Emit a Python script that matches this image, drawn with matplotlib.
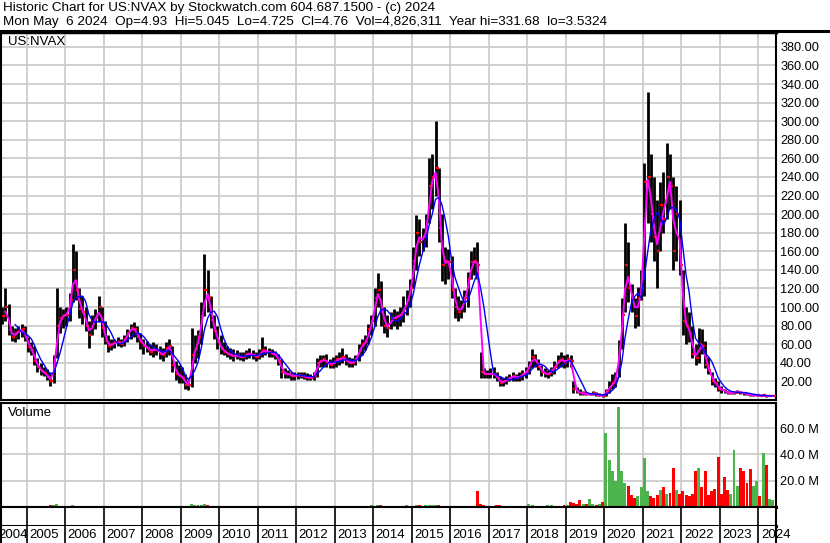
import numpy as np
import pandas as pd
import matplotlib
matplotlib.use('Agg')
import matplotlib.pyplot as plt
import matplotlib.dates as mdates
from matplotlib.lines import Line2D
from matplotlib.transforms import blended_transform_factory, offset_copy

plt.rcParams['font.family'] = ['Liberation Sans', 'DejaVu Sans']

# monthly bars May 2004 .. May 2024, split adjusted prices, volume in millions
high = [
    100, 121, 103, 80, 78, 80, 82, 80,                                   # 2004
    68, 62, 58, 45, 40, 36, 33, 30, 48, 121, 100, 98,                    # 2005
    100, 115, 168, 160, 120, 112, 100, 85, 92, 98, 112, 100,             # 2006
    85, 70, 66, 66, 68, 66, 70, 76, 82, 84, 80, 72,                      # 2007
    66, 64, 60, 62, 60, 58, 56, 62, 66, 58, 42, 38,                      # 2008
    35, 28, 22, 78, 70, 75, 105, 157, 140, 112, 92, 80,                  # 2009
    70, 62, 58, 56, 55, 54, 52, 52, 54, 56, 54, 52,                      # 2010
    55, 68, 58, 56, 55, 53, 50, 44, 34, 32, 30, 30,                      # 2011
    30, 30, 30, 29, 28, 30, 45, 48, 48, 50, 44, 46,                      # 2012
    48, 52, 56, 50, 46, 45, 48, 60, 66, 70, 82, 92,                      # 2013
    120, 137, 128, 100, 92, 95, 98, 96, 100, 112, 118, 130,              # 2014
    165, 199, 195, 185, 200, 260, 265, 300, 250, 200, 165, 162,          # 2015
    155, 120, 112, 108, 118, 138, 160, 165, 170, 52, 34, 32,             # 2016
    34, 36, 30, 26, 24, 26, 28, 30, 28, 30, 32, 36,                      # 2017
    42, 55, 50, 44, 38, 34, 32, 36, 42, 48, 52, 48,                      # 2018
    50, 48, 20, 14, 12, 10, 9, 8, 10, 9, 8, 6,                           # 2019
    12, 20, 28, 30, 65, 110, 191, 170, 125, 110, 122, 140,               # 2020
    255, 331, 265, 240, 215, 235, 245, 277, 265, 240, 230, 215,          # 2021
    140, 100, 95, 80, 60, 78, 76, 64, 46, 30, 24, 20,                    # 2022
    15, 12, 10, 9, 10, 11, 10, 9, 8, 7, 6, 6,                            # 2023
    5.5, 6, 5.5, 5, 5.05,                                                # 2024
]
low = [
    82, 85, 70, 63, 62, 66, 68, 64,
    52, 48, 38, 30, 27, 26, 22, 15, 18, 45, 72, 78,
    80, 85, 105, 108, 88, 82, 74, 56, 70, 76, 84, 68,
    60, 52, 54, 56, 58, 57, 58, 62, 66, 68, 62, 55,
    50, 52, 48, 46, 48, 44, 42, 46, 48, 30, 22, 18,
    18, 12, 11, 14, 40, 45, 60, 90, 95, 78, 66, 55,
    50, 48, 46, 44, 42, 44, 43, 42, 44, 45, 44, 42,
    44, 46, 48, 46, 46, 44, 38, 24, 24, 24, 22, 22,
    23, 24, 23, 22, 21, 22, 25, 36, 36, 36, 34, 34,
    36, 38, 40, 38, 36, 36, 38, 42, 48, 54, 60, 70,
    80, 100, 80, 72, 68, 76, 80, 76, 80, 84, 92, 100,
    120, 140, 155, 160, 165, 190, 205, 220, 170, 128, 125, 130,
    110, 88, 85, 88, 95, 100, 130, 135, 130, 24, 24, 24,
    24, 24, 20, 15, 15, 17, 20, 20, 20, 20, 22, 24,
    28, 34, 36, 32, 26, 25, 24, 26, 28, 34, 36, 34,
    36, 36, 8, 7, 5, 5, 5, 5, 5, 4, 4, 3.5,
    4, 8, 12, 14, 25, 55, 95, 105, 95, 78, 80, 108,
    112, 190, 170, 150, 120, 160, 180, 195, 205, 140, 150, 135,
    70, 60, 62, 45, 38, 40, 50, 34, 28, 16, 14, 10,
    8, 7, 6, 6, 6, 7, 6, 5, 5, 4, 4, 4,
    4, 4, 3.5, 3.8, 4.7,
]
close = [
    90, 100, 75, 68, 72, 74, 76, 68,
    57, 54, 42, 35, 31, 29, 25, 20, 40, 80, 88, 92,
    92, 108, 140, 118, 98, 95, 80, 70, 85, 88, 100, 78,
    64, 58, 60, 62, 62, 60, 66, 72, 78, 76, 68, 62,
    58, 56, 52, 55, 54, 50, 48, 56, 58, 38, 28, 26,
    24, 16, 16, 48, 55, 68, 90, 118, 110, 86, 74, 62,
    55, 52, 50, 48, 47, 48, 46, 46, 50, 50, 48, 46,
    50, 54, 52, 52, 50, 48, 42, 30, 28, 28, 26, 26,
    27, 26, 25, 24, 24, 26, 40, 42, 44, 40, 38, 40,
    44, 44, 46, 42, 40, 40, 44, 54, 60, 62, 76, 85,
    110, 118, 95, 80, 78, 88, 88, 90, 92, 98, 108, 120,
    150, 180, 170, 175, 185, 230, 240, 250, 185, 145, 150, 148,
    118, 100, 95, 100, 110, 130, 148, 150, 145, 30, 28, 28,
    28, 28, 24, 18, 20, 22, 24, 26, 24, 25, 28, 30,
    38, 46, 42, 36, 30, 28, 28, 32, 36, 42, 44, 40,
    44, 42, 12, 9, 7, 7, 6, 6, 7, 5, 5, 4,
    10, 14, 18, 24, 55, 92, 145, 120, 110, 90, 110, 120,
    235, 240, 200, 175, 160, 210, 195, 240, 230, 160, 200, 145,
    85, 80, 72, 50, 45, 60, 58, 38, 32, 20, 18, 12,
    11, 9, 7, 8, 8, 9, 8, 7, 6, 5, 5, 5,
    4.5, 5, 4, 4.3, 4.76,
]
volume = [
    0.3, 0.4, 0.3, 0.2, 0.2, 0.2, 0.2, 0.2,
    0.2, 0.2, 0.3, 0.3, 0.3, 0.4, 0.5, 1.5, 1.2, 2.5, 1.0, 0.6,
    0.5, 0.8, 1.2, 1.0, 0.5, 0.4, 0.4, 0.3, 0.3, 0.3, 0.3, 0.3,
    0.3, 0.2, 0.2, 0.2, 0.2, 0.2, 0.2, 0.2, 0.2, 0.3, 0.2, 0.2,
    0.2, 0.2, 0.2, 0.2, 0.2, 0.2, 0.2, 0.2, 0.3, 0.3, 0.3, 0.3,
    0.3, 0.3, 0.5, 2.2, 1.5, 1.2, 1.5, 2.5, 1.5, 0.8, 0.5, 0.4,
    0.3, 0.3, 0.3, 0.3, 0.3, 0.3, 0.3, 0.3, 0.3, 0.3, 0.3, 0.3,
    0.3, 0.3, 0.3, 0.3, 0.3, 0.3, 0.3, 0.3, 0.3, 0.3, 0.3, 0.3,
    0.3, 0.3, 0.3, 0.3, 0.3, 0.3, 0.3, 0.3, 0.3, 0.3, 0.3, 0.3,
    0.3, 0.3, 0.3, 0.3, 0.3, 0.3, 0.3, 0.3, 0.3, 0.4, 0.6, 1.2,
    1.0, 1.5, 1.2, 0.8, 0.6, 0.6, 0.5, 0.6, 0.7, 0.8, 1.2, 1.0,
    1.0, 1.5, 1.2, 1.0, 1.2, 1.5, 1.8, 1.5, 1.2, 1.0, 0.8, 0.8,
    0.9, 1.0, 0.8, 0.7, 0.7, 0.8, 0.9, 1.0, 12, 2.5, 1.5, 1.0,
    1.0, 0.8, 1.5, 1.2, 0.8, 0.8, 0.8, 0.7, 0.6, 0.6, 0.6, 0.8,
    2.5, 1.5, 1.0, 0.8, 0.8, 0.7, 1.5, 1.2, 0.8, 0.9, 1.0, 1.2,
    1.5, 4.0, 3.0, 2.0, 5.6, 2.0, 2.0, 6.4, 2.0, 1.5, 2.5, 4.0,
    56, 36, 27, 20, 76, 27, 18, 16, 9, 7, 8, 15,
    37, 12, 8, 7, 9, 13, 15, 10, 11, 30, 13, 10,
    12, 9, 8, 10, 27, 30, 15, 27, 9, 12, 14, 38,
    10, 23, 13, 10, 43, 16, 30, 27, 18, 29, 16, 20,
    8, 41, 32, 6, 5,
]
years = list(range(2005, 2025))

W, H = 830, 543
dates = pd.date_range('2004-05-01', periods=len(close), freq='MS') + pd.Timedelta(days=14)
xs = mdates.date2num(dates.to_pydatetime())
year_x = mdates.date2num([pd.Timestamp(f'{y}-01-01').to_pydatetime() for y in years])
x0 = mdates.date2num(pd.Timestamp('2004-05-04').to_pydatetime())
x1 = mdates.date2num(pd.Timestamp('2024-06-16').to_pydatetime())

cl = pd.Series(close)
ma_fast = cl.rolling(2).mean()
ma_slow = cl.rolling(5).mean()
up = cl.diff().fillna(0) >= 0

grid_c = '#c8c8c8'


def box(top, bottom, left=1, right=776):
    return [left / W, (H - bottom) / H, (right - left) / W, (bottom - top) / H]


fig = plt.figure(figsize=(W / 100, H / 100), dpi=100)
fig.patch.set_facecolor('white')

ax_p = fig.add_axes(box(32, 400))
ax_v = fig.add_axes(box(403, 507))
ax_b = fig.add_axes(box(507, 526))
ax_l = fig.add_axes(box(526, 543))

for ax in (ax_p, ax_v, ax_b, ax_l):
    ax.set_xlim(x0, x1)
    ax.set_xticks(year_x)
    ax.tick_params(axis='x', length=0, labelbottom=False)
    for s in ax.spines.values():
        s.set_color('black')
        s.set_linewidth(1.5)

# price panel
ax_p.vlines(xs, low, high, color='black', lw=2.0, zorder=2)
ax_p.plot(xs, close, ls='none', marker=1, ms=2.2, mew=1.6, color='red', zorder=3)
ax_p.plot(xs, ma_fast, color='#ff00ff', lw=1.4, zorder=4)
ax_p.plot(xs, ma_slow, color='#0000ff', lw=1.0, zorder=5)
ax_p.set_ylim(0, 396)
ax_p.set_yticks(np.arange(20, 381, 20))
ax_p.set_yticklabels([f'{v:.2f}' for v in np.arange(20, 381, 20)])
ax_p.yaxis.tick_right()
ax_p.tick_params(axis='y', length=0, pad=3, labelsize=9.2)
ax_p.grid(True, color=grid_c, lw=1.2)
ax_p.set_axisbelow(True)
ax_p.spines['top'].set_linewidth(2.5)

# volume panel
vol_colors = ['#4db34d' if u else '#ff0000' for u in up]
ax_v.bar(xs, volume, width=28, color=vol_colors, zorder=2)
ax_v.set_ylim(0, 79)
ax_v.set_yticks([20, 40, 60])
ax_v.set_yticklabels(['20.0 M', '40.0 M', '60.0 M'])
ax_v.yaxis.tick_right()
ax_v.tick_params(axis='y', length=0, pad=3, labelsize=9.2)
ax_v.grid(True, color=grid_c, lw=1.2)
ax_v.set_axisbelow(True)
ax_v.spines['bottom'].set_linewidth(2.2)

# empty band and year label row
for ax in (ax_b, ax_l):
    ax.set_yticks([])
    ax.set_ylim(0, 1)
    ax.grid(True, axis='x', color='black', lw=1.2)
ax_b.spines['bottom'].set_linewidth(2.2)
ax_l.spines['top'].set_visible(False)
ax_l.spines['bottom'].set_visible(False)

lab_tr = offset_copy(blended_transform_factory(ax_l.transData, ax_l.transAxes),
                     fig=fig, x=2.5, y=0, units='dots')
for y, xv in zip(years, year_x):
    ax_l.text(xv, 0.45, str(y), transform=lab_tr, ha='left', va='center',
              fontsize=9.5, clip_on=False)
ax_l.text(x0, 0.45, '2004', transform=offset_copy(lab_tr, fig=fig, x=-5, y=0, units='dots'),
          ha='left', va='center', fontsize=9.5, clip_on=False)

# header
fig.add_artist(Line2D([0, 1], [(H - 31) / H] * 2, transform=fig.transFigure,
                      color='black', lw=2.2))
fig.text(3 / W, 1 - 8.5 / H,
         'Historic Chart for US:NVAX by Stockwatch.com 604.687.1500 - (c) 2024',
         va='center', ha='left', fontsize=9.7)
fig.text(3 / W, 1 - 21.5 / H,
         'Mon May  6 2024  Op=4.93  Hi=5.045  Lo=4.725  Cl=4.76  Vol=4,826,311  '
         'Year hi=331.68  lo=3.5324',
         va='center', ha='left', fontsize=9.7)
fig.text(8 / W, 1 - 42 / H, 'US:NVAX', va='center', ha='left', fontsize=9.5)
fig.text(8 / W, 1 - 413 / H, 'Volume', va='center', ha='left', fontsize=9.5)

fig.savefig('out.png', dpi=100)
